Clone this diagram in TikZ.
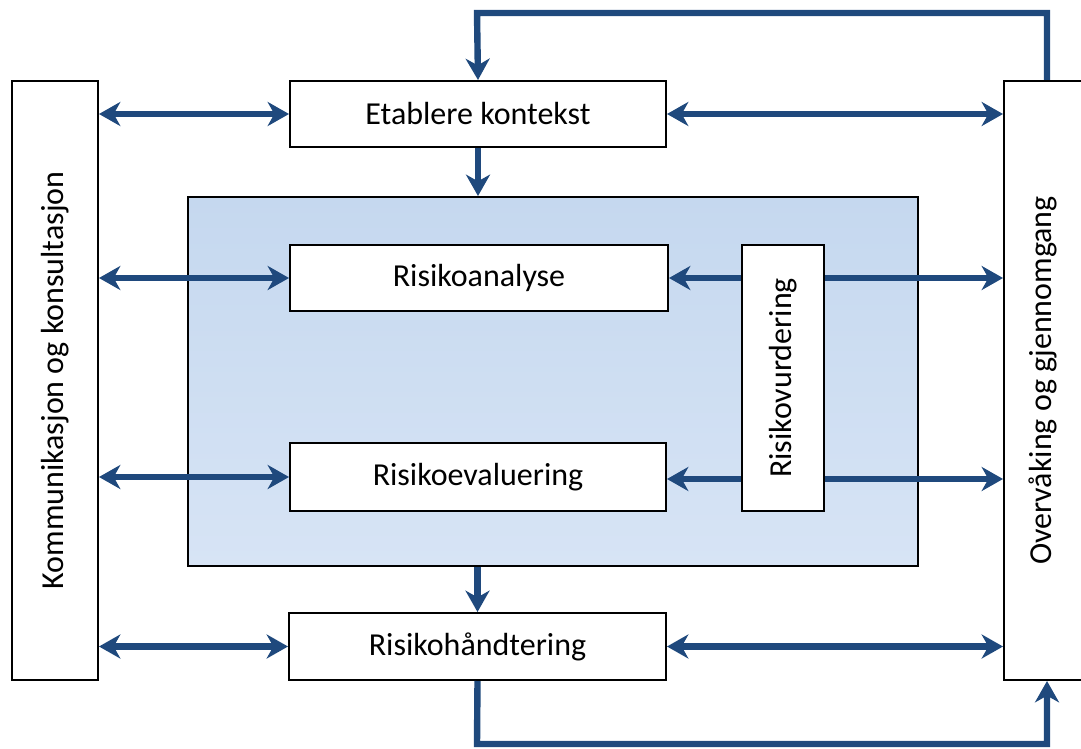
\documentclass[tikz,border=0pt]{standalone}
\usepackage{fontspec}
\setmainfont{Carlito}
\usetikzlibrary{arrows.meta}
\definecolor{arrowblue}{RGB}{31,73,125}
\definecolor{paneltop}{RGB}{197,216,239}
\definecolor{panelbottom}{RGB}{215,228,245}
\tikzset{
  label/.style={font=\fontsize{24}{28}\selectfont},
  box/.style={draw=black, line width=1.5pt, fill=white, inner sep=0pt, label},
  flow/.style={draw=arrowblue, line width=4.8pt, line join=miter},
  one/.style={flow, -{Stealth[length=16pt,width=18pt,inset=5pt]}},
  two/.style={flow, {Stealth[length=16pt,width=18pt,inset=5pt]}-{Stealth[length=16pt,width=18pt,inset=5pt]}},
}
\begin{document}
\begin{tikzpicture}[x=0.75pt,y=-0.75pt]
\useasboundingbox (0,0) rectangle (1081,749);

% central risk-assessment panel
\node[draw=black, line width=1.5pt, top color=paneltop, bottom color=panelbottom,
  minimum width=547.5pt, minimum height=276.75pt, inner sep=0pt] (panel) at (553,381.5) {};

% side boxes
\node[box, minimum width=64.5pt, minimum height=449.25pt] (kom) at (55,380.5) {};
\node[rotate=90, label] at (kom.center) {Kommunikasjon og konsultasjon};
\node[box, minimum width=64.5pt, minimum height=449.25pt] (over) at (1047,380.5) {};
\node[rotate=90, label] at ([xshift=-3pt]over.center) {Overvåking og gjennomgang};

% process steps
\node[box, minimum width=282pt, minimum height=49.5pt] (etab) at (478,114) {Etablere kontekst};
\node[box, minimum width=283.5pt, minimum height=49.5pt] (anal) at (479,278) {Risikoanalyse};
\node[box, minimum width=282pt, minimum height=51pt] (eval) at (478,477) {Risikoevaluering};
\node[box, minimum width=282.75pt, minimum height=50.25pt] (hand) at (477.5,646.5) {Risikohåndtering};

% loop coordinates
\coordinate (tl) at (477,13);
\coordinate (bl) at (477,744);

% communication links on the left
\draw[two] (kom.east |- etab) -- (etab.west);
\draw[two] (kom.east |- anal) -- (anal.west);
\draw[two] (kom.east |- eval) -- (eval.west);
\draw[two] (kom.east |- hand) -- (hand.west);

% monitoring links on the right
\draw[two] (etab.east) -- (over.west |- etab);
\draw[two] (hand.east) -- (over.west |- hand);

% main flow
\draw[one] (etab.south) -- (etab.south |- panel.north);
\draw[one] (hand.north |- panel.south) -- (hand.north);
\draw[one] (over.north) |- (tl) -- (etab.north);
\draw[one] (hand.south) -- (bl) -| (over.south);

% risk assessment links
\coordinate (va) at (783,278);
\coordinate (ve) at (783,479);
\draw[one] (va) -- (anal.east);
\draw[one] (va) -- (over.west |- va);
\draw[one] (ve) -- (eval.east |- ve);
\draw[one] (ve) -- (over.west |- ve);

\node[box, minimum width=61.5pt, minimum height=199.5pt] (vurd) at (783,378) {};
\node[rotate=90, label] at (vurd.center) {Risikovurdering};
\end{tikzpicture}
\end{document}
